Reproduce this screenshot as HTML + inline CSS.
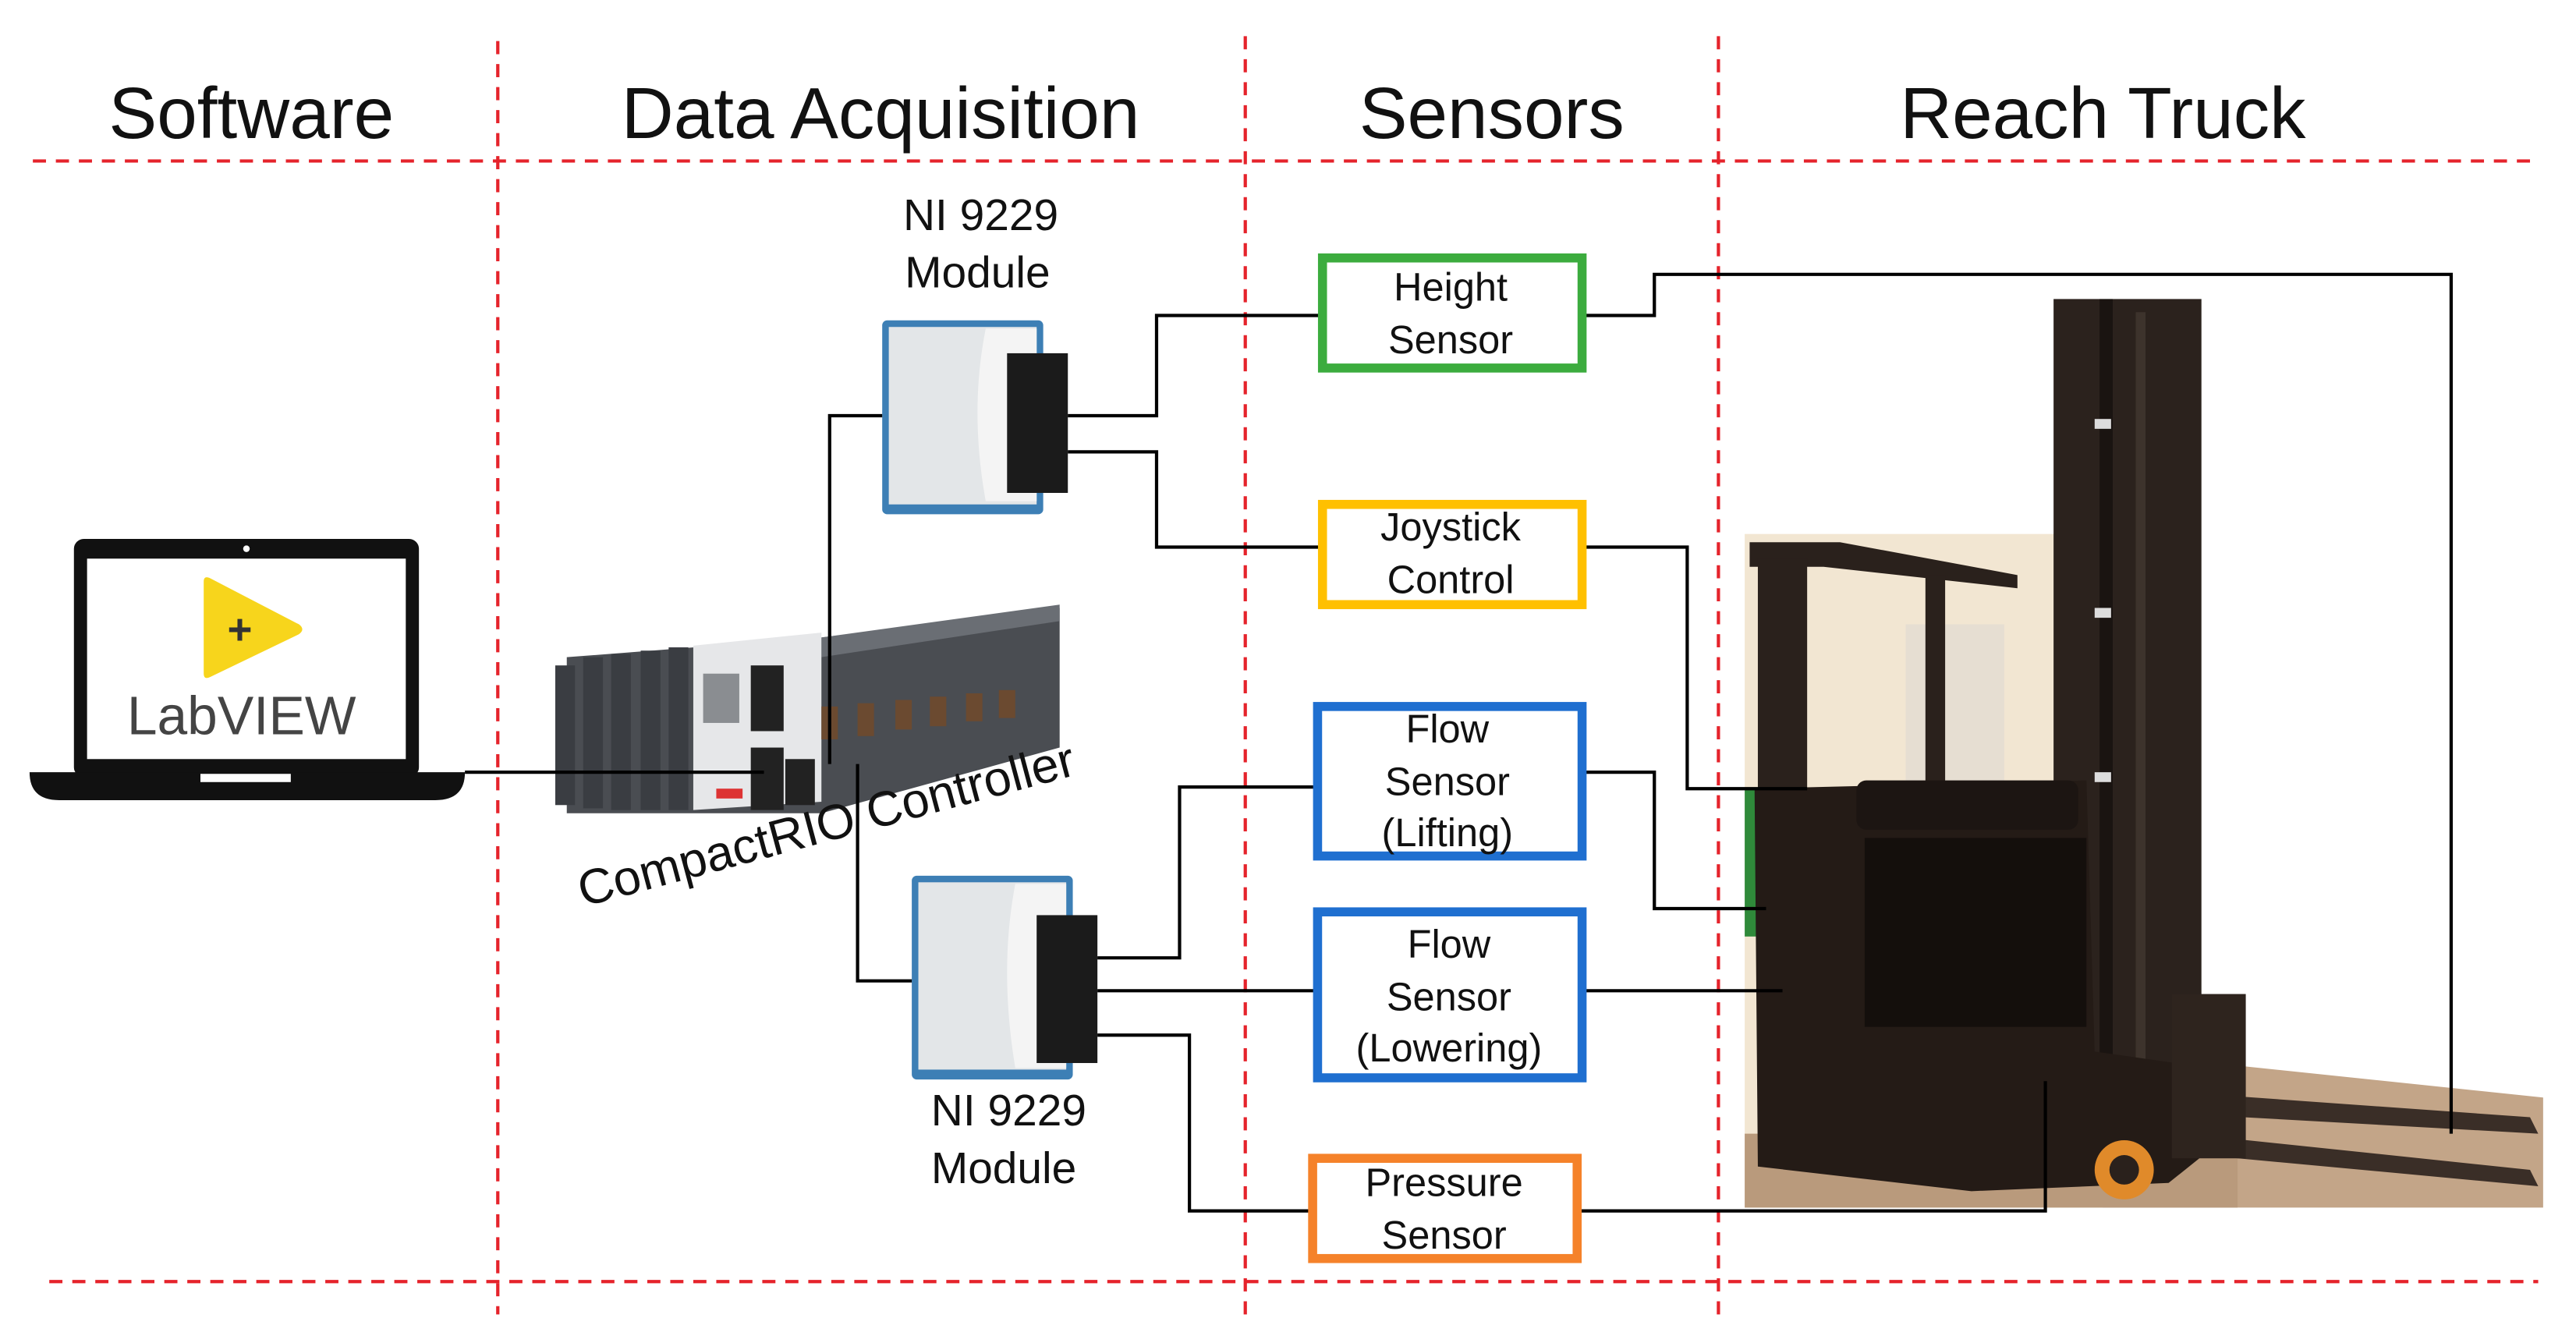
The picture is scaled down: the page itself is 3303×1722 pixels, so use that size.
<!DOCTYPE html>
<html><head><meta charset="utf-8"><style>
html,body{margin:0;padding:0;background:#fff;}
svg{display:block;}
text{font-family:"Liberation Sans",Arial,sans-serif;}
</style></head><body>
<svg width="3303" height="1722" viewBox="0 0 1568 817.4" preserveAspectRatio="none" xmlns="http://www.w3.org/2000/svg">
<rect width="1570" height="820" fill="#fff"/>
<g stroke="#e5232b" stroke-width="2" stroke-dasharray="8,6" fill="none">
<line x1="20" y1="98" x2="1540" y2="98"/>
<line x1="30" y1="780" x2="1545" y2="780"/>
<line x1="303" y1="25" x2="303" y2="800"/>
<line x1="758" y1="22" x2="758" y2="800"/>
<line x1="1046" y1="22" x2="1046" y2="800"/>
</g>
<g font-size="44" text-anchor="middle" fill="#111">
<text x="153" y="84">Software</text>
<text x="536" y="84">Data Acquisition</text>
<text x="908" y="84">Sensors</text>
<text x="1280" y="84">Reach Truck</text>
</g>

<g>
<rect x="1062" y="325" width="218" height="410" fill="#f2e6d2"/>
<rect x="1160" y="380" width="60" height="110" fill="#e6ded2"/>
<rect x="1062" y="480" width="20" height="90" fill="#2f8a3a"/>
<polygon points="1280,640 1548,668 1548,735 1280,735" fill="#c3a588"/>
<rect x="1062" y="690" width="300" height="45" fill="#b99a7c"/>
<rect x="1250" y="182" width="90" height="520" fill="#2b221d"/>
<rect x="1278" y="182" width="8" height="520" fill="#1a1411"/>
<rect x="1300" y="190" width="6" height="500" fill="#3d332c"/>
<rect x="1275" y="255" width="10" height="6" fill="#ddd"/>
<rect x="1275" y="370" width="10" height="6" fill="#ddd"/>
<rect x="1275" y="470" width="10" height="6" fill="#ddd"/>
<polygon points="1065,330 1120,330 1228,350 1228,358 1110,345 1065,345" fill="#2a211c"/>
<rect x="1070" y="340" width="30" height="145" fill="#2a211c"/>
<rect x="1172" y="350" width="12" height="135" fill="#2a211c"/>
<polygon points="1068,480 1270,475 1275,640 1345,650 1345,700 1320,720 1200,725 1070,710" fill="#241b16"/>
<rect x="1130" y="475" width="135" height="30" fill="#1c1512" rx="6"/>
<rect x="1135" y="510" width="135" height="115" fill="#140f0c"/>
<polygon points="1330,665 1540,680 1545,690 1330,678" fill="#3a2e27"/>
<polygon points="1330,690 1540,712 1545,722 1330,702" fill="#3a2e27"/>
<rect x="1322" y="605" width="45" height="100" fill="#2e241e"/>
<circle cx="1293" cy="712" r="18" fill="#e08a2a"/>
<circle cx="1293" cy="712" r="9" fill="#2a211c"/>
</g>

<rect x="45" y="328" width="210" height="145" rx="6" fill="#111"/>
<rect x="53" y="340" width="194" height="122" fill="#fff"/>
<circle cx="150" cy="334" r="2" fill="#fff"/>
<path d="M18,470 L283,470 Q283,487 265,487 L36,487 Q18,487 18,470 Z" fill="#111"/>
<rect x="122" y="471" width="55" height="5" fill="#fff"/>
<path d="M124,354 Q124,350 128,352 L182,380 Q186,383 182,386 L128,412 Q124,414 124,410 Z" fill="#f7d51c"/>
<text x="146" y="392" font-size="26" font-weight="bold" text-anchor="middle" fill="#333">+</text>
<text x="147" y="447" font-size="33" text-anchor="middle" fill="#444">LabVIEW</text>

<polygon points="345,400 500,388 645,370 645,455 500,495 345,495" fill="#4a4d52"/>
<polygon points="500,388 645,368 645,378 500,400" fill="#6a6e74"/>
<g fill="#3a3d42">
<rect x="338" y="405" width="12" height="85"/>
<rect x="355" y="400" width="12" height="92"/>
<rect x="372" y="398" width="12" height="95"/>
<rect x="390" y="396" width="12" height="97"/>
<rect x="407" y="394" width="12" height="99"/>
</g>
<polygon points="422,393 500,385 500,488 422,493" fill="#e6e7e9"/>
<rect x="428" y="410" width="22" height="30" fill="#8a8d91"/>
<rect x="457" y="405" width="20" height="40" fill="#222"/>
<rect x="457" y="455" width="20" height="38" fill="#222"/>
<rect x="478" y="462" width="18" height="28" fill="#222"/>
<rect x="436" y="480" width="16" height="6" fill="#d33"/>
<g fill="#6b4a30">
<rect x="500" y="430" width="10" height="20"/><rect x="522" y="428" width="10" height="20"/>
<rect x="545" y="426" width="10" height="18"/><rect x="566" y="424" width="10" height="18"/>
<rect x="588" y="422" width="10" height="17"/><rect x="608" y="420" width="10" height="17"/>
</g>
<text x="0" y="0" font-size="30" fill="#111" transform="translate(355,552) rotate(-15)">CompactRIO Controller</text>

<g>
<rect x="537" y="195" width="98" height="118" rx="3" fill="#3d7fb5"/>
<rect x="541" y="199" width="90" height="108" fill="#e3e6e8"/>
<path d="M600,200 Q590,250 600,305 L631,305 L631,200 Z" fill="#f4f4f4"/>
<rect x="613" y="215" width="37" height="85" fill="#1b1b1b"/>
</g>
<g>
<rect x="555" y="533" width="98" height="124" rx="3" fill="#3d7fb5"/>
<rect x="559" y="537" width="90" height="114" fill="#e3e6e8"/>
<path d="M618,538 Q608,590 618,650 L649,650 L649,538 Z" fill="#f4f4f4"/>
<rect x="631" y="557" width="37" height="90" fill="#1b1b1b"/>
</g>
<g font-size="27" text-anchor="middle" fill="#111">
<text x="597" y="140">NI 9229</text><text x="595" y="175">Module</text>
<text x="614" y="685">NI 9229</text><text x="611" y="720">Module</text>
</g>

<g stroke="#000" stroke-width="2" fill="none">
<path d="M283,470 H465"/>
<path d="M505,465 V253 H537"/>
<path d="M522,465 V597 H555"/>
<path d="M650,253 H704 V192 H803"/>
<path d="M650,275 H704 V333 H803"/>
<path d="M965,192 H1007 V167 H1492 V690"/>
<path d="M965,333 H1027 V480 H1100"/>
<path d="M965,470 H1007 V553 H1075"/>
<path d="M800,479 H718 V583 H668"/>
<path d="M668,603 H800"/>
<path d="M965,603 H1085"/>
<path d="M668,630 H724 V737 H797"/>
<path d="M962,737 H1245 V658"/>
</g>

<g fill="#fff" stroke-width="5.5">
<rect x="805" y="157" width="158" height="67" stroke="#3cac3e"/>
<rect x="805" y="307" width="158" height="61" stroke="#ffc000"/>
<rect x="802" y="430" width="161" height="91" stroke="#1f6fd0"/>
<rect x="802" y="555" width="161" height="101" stroke="#1f6fd0"/>
<rect x="799" y="705" width="161" height="61" stroke="#f5822a"/>
</g>
<g font-size="24" text-anchor="middle" fill="#111">
<text x="883" y="183">Height</text><text x="883" y="215">Sensor</text>
<text x="883" y="329">Joystick</text><text x="883" y="361">Control</text>
<text x="881" y="452">Flow</text><text x="881" y="484">Sensor</text><text x="881" y="515">(Lifting)</text>
<text x="882" y="583">Flow</text><text x="882" y="615">Sensor</text><text x="882" y="646">(Lowering)</text>
<text x="879" y="728">Pressure</text><text x="879" y="760">Sensor</text>
</g>
</svg>
</body></html>
